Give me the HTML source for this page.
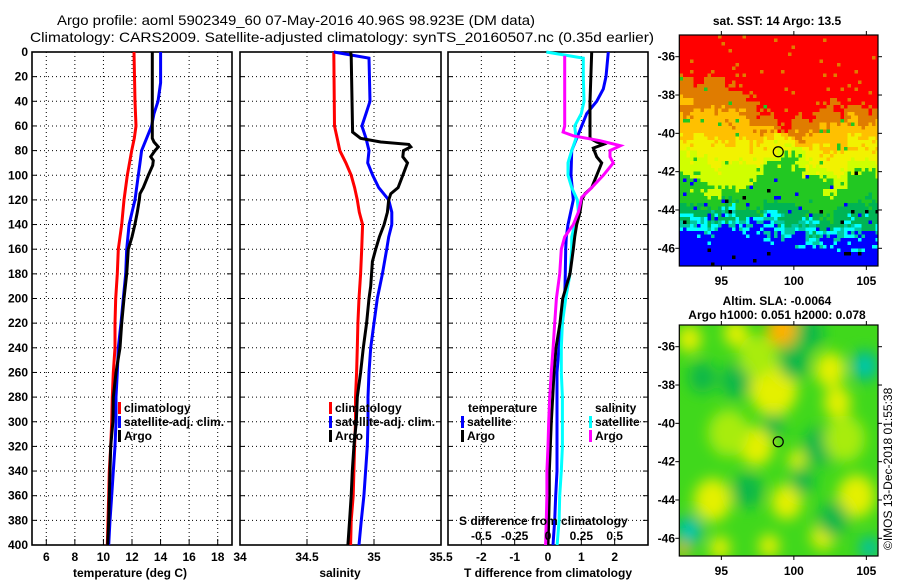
<!DOCTYPE html>
<html><head><meta charset="utf-8">
<style>
html,body{margin:0;padding:0;background:#fff;}
svg{display:block;font-family:"Liberation Sans",Arial,sans-serif;}
.tk{font-size:12px;font-weight:bold;fill:#000;}
.ti{font-size:14px;fill:#000;}
.lg{font-size:12px;font-weight:bold;fill:#000;}
</style></head>
<body>
<svg id="chart" width="900" height="580" viewBox="0 0 900 580" xmlns="http://www.w3.org/2000/svg">
  <text class="ti" x="296" y="25" text-anchor="middle" textLength="478" lengthAdjust="spacingAndGlyphs">Argo profile: aoml 5902349_60 07-May-2016 40.96S 98.923E (DM data)</text>
  <text class="ti" x="342" y="42" text-anchor="middle" textLength="624" lengthAdjust="spacingAndGlyphs">Climatology: CARS2009. Satellite-adjusted climatology: synTS_20160507.nc (0.35d earlier)</text>
  <g id="panels"></g>
  <g id="maps"></g>
  <text class="ti" x="777" y="25" text-anchor="middle" style="font-size:12px;font-weight:bold">sat. SST: 14 Argo: 13.5</text>
  <text class="ti" x="777" y="305" text-anchor="middle" style="font-size:12px;font-weight:bold">Altim. SLA: -0.0064</text>
  <text class="ti" x="777" y="319" text-anchor="middle" style="font-size:12px;font-weight:bold">Argo h1000: 0.051 h2000: 0.078</text>
  <text x="892" y="550" transform="rotate(-90 892 550)" style="font-size:12px;fill:#000">©IMOS 13-Dec-2018 01:55:38</text>
</svg>
<script>
// ---------- data ----------
const depthTicks = [0,20,40,60,80,100,120,140,160,180,200,220,240,260,280,300,320,340,360,380,400];
const tempTicks = [6,8,10,12,14,16,18];
const salTicks = [34,34.5,35,35.5];
const salTickLabels = ["34","34.5","35","35.5"];
const diffTicks = [-2,-1,0,1,2];
const sDiffTicks = [-0.5,-0.25,0,0.25,0.5];
const sDiffTickLabels = ["-0.5","-0.25","0","0.25","0.5"];

const climTDepth = [0,40,60,70,80,100,120,140,160,180,200,220,240,260,280,300,320,340,360,380,400];
const climTVal = [12.14,12.21,12.28,12.16,11.98,11.67,11.44,11.28,11.04,10.97,10.86,10.81,10.81,10.69,10.62,10.58,10.51,10.41,10.37,10.32,10.27];
const satTDepth = [0,25,40,50,60,70,80,90,100,120,130,140,160,180,200,220,240,260,280,300,320,340,360,380,400];
const satTVal = [14.0,14.0,13.82,13.54,13.37,13.02,12.67,12.56,12.44,12.21,12.0,11.8,11.63,11.56,11.39,11.23,11.04,10.97,10.88,10.88,10.81,10.69,10.58,10.46,10.37];
const argoTDepth = [0,70,73,77,80,85,88,92,100,110,115,120,130,140,150,160,180,200,220,240,260,280,300,320,340,360,380,400];
const argoTVal = [13.42,13.42,13.54,13.84,13.61,13.31,13.49,13.45,13.14,12.79,12.56,12.51,12.37,12.2,12.0,11.74,11.63,11.44,11.28,11.16,10.88,10.69,10.66,10.51,10.46,10.41,10.37,10.3];

const climSDepth = [0,60,70,80,90,100,110,120,130,140,160,180,200,220,240,260,280,300,320,340,360,380,400];
const climSVal = [34.70,34.705,34.725,34.745,34.79,34.83,34.855,34.875,34.89,34.915,34.908,34.90,34.888,34.88,34.875,34.87,34.862,34.862,34.855,34.85,34.845,34.83,34.825];
const satSDepth = [0,5,40,50,60,70,80,90,100,110,120,130,140,150,160,180,200,220,240,260,280,300,320,340,360,380,400];
const satSVal = [34.70,34.963,34.97,34.94,34.91,34.94,34.963,34.953,34.99,35.035,35.11,35.133,35.133,35.11,35.095,35.063,35.025,35.0,34.975,34.963,34.955,34.955,34.95,34.937,34.925,34.905,34.888];
const argoSDepth = [0,3,65,70,73,75,77,80,85,90,100,110,115,120,130,140,150,160,170,190,200,220,240,260,280,300,320,340,360,380,400];
const argoSVal = [34.825,34.83,34.84,34.90,35.05,35.26,35.275,35.22,35.215,35.25,35.215,35.18,35.125,35.11,35.10,35.075,35.04,35.013,34.988,34.975,34.963,34.945,34.92,34.90,34.875,34.868,34.85,34.838,34.83,34.818,34.805];

const satTDiffDepth = [0,20,30,40,50,60,70,80,100,120,140,150,160,180,200,220,240,260,280,300,320,340,360,380,400];
const satTDiffVal = [1.81,1.74,1.66,1.46,1.16,1.01,0.86,0.71,0.69,0.76,0.6,0.55,0.53,0.52,0.50,0.43,0.33,0.27,0.27,0.27,0.27,0.27,0.23,0.2,0.15];
const argoTDiffDepth = [0,40,70,73,75,78,85,90,100,110,115,120,130,140,150,160,180,200,220,240,260,280,300,320,340,360,380,400];
const argoTDiffVal = [1.31,1.26,1.26,1.46,1.66,1.36,1.46,1.61,1.46,1.31,1.11,1.01,0.96,0.86,0.8,0.76,0.66,0.44,0.36,0.24,0.18,0.14,0.1,0.07,0.04,0.04,0.02,0.0];
const satSDiffDepth = [0,5,20,40,50,60,70,80,90,100,110,120,130,140,150,160,180,200,220,240,260,280,300,320,340,360,380,400];
const satSDiffVal = [-0.0125,0.265,0.265,0.27,0.25,0.2,0.21,0.178,0.15,0.15,0.178,0.22,0.228,0.2,0.178,0.178,0.165,0.133,0.108,0.1,0.1,0.108,0.108,0.108,0.1,0.088,0.083,0.068];
const argoSDiffDepth = [3,60,65,68,72,76,80,85,90,100,110,118,130,140,150,160,180,200,220,240,260,280,300,320,340,360,380,400];
const argoSDiffVal = [0.125,0.125,0.113,0.19,0.39,0.543,0.465,0.465,0.49,0.415,0.328,0.253,0.228,0.19,0.125,0.1,0.088,0.063,0.05,0.038,0.025,0.013,0.005,0,-0.008,-0.008,-0.013,-0.018];

// map data
const latTicks = [-36,-38,-40,-42,-44,-46];
const lonTicks = [95,100,105];
const argoLon = 98.923, argoLat = -40.96;
const bandLon = [92,94,96,98,99.5,101,102.5,104,106];
const redEdgeLat = [-37.3,-36.8,-37.3,-39.0,-39.4,-39.2,-38.4,-38.4,-38.8];
const greenEdgeLat = [-42.0,-42.8,-43.0,-42.0,-41.2,-42.0,-43.0,-42.0,-42.0];
const blueEdgeLat = [-45.0,-45.0,-44.8,-45.2,-45.5,-45.6,-45.5,-45.5,-45.2];
const slaBlobLon = [98.6,99.2,97.4,94.4,102.5,104.3,103,92.8,96,99.5,98.3,102,94.9,100.2,92.3, 104.9,92.8,105.2,96.8,98.6,102.7,101.8,96,93.7,101.1,100.6,95.5,103.5,97.5,100];
const slaBlobLat = [-38.2,-35.1,-41.2,-44,-37.2,-43.8,-38.9,-35.6,-35.3,-44.1,-46.4,-45.9,-46.5,-41.9,-46.6, -37,-45.6,-46.5,-43.5,-40.1,-45,-41.2,-37.8,-37.6,-35.3,-43,-40.5,-40.8,-36.5,-36.8];
const slaBlobKind = ["y","o","y","y","y","y","y","y","y","y","y","y","y","y","o", "c","c","c","d","d","d","d","d","d","d","d","l","l","l","d"];
const slaBlobR = [1.4,0.9,1.0,1.1,0.9,1.1,0.8,0.7,0.7,0.9,0.6,0.7,0.6,0.5,0.35, 0.8,0.8,0.6,0.9,0.6,0.9,1.0,0.9,0.8,0.8,0.7,1.2,1.2,1.1,0.9];

// ---------- drawing ----------
const NS='http://www.w3.org/2000/svg';
function mk(tag, attrs, parent){const e=document.createElementNS(NS,tag);for(const k in attrs)e.setAttribute(k,attrs[k]);parent.appendChild(e);return e;}
const panels=document.getElementById('panels');
const Y0=52, Y1=545;
const yD = d => Y0 + d*(Y1-Y0)/400;
const xT = v => 32 + (v-5)*200/14;
const xS = v => 240 + (v-34)*201/1.5;
const xDf = v => 448 + (v+3)*200/6;
const xSD = v => xDf(v*4);

function panel(name, x0, x1, xticks, xfn, labels, showDepthLabels, title, titleX){
  const g=mk('g',{},panels);
  
  
  depthTicks.forEach(d=>{
    const l=mk('line',{x1:x0,x2:x1,y1:yD(d),y2:yD(d),stroke:'#000','stroke-width':1,'stroke-dasharray':'1,3'},g);
    
    
    mk('line',{x1:x0,x2:x0+5,y1:yD(d),y2:yD(d),stroke:'#000','stroke-width':1},g);
    mk('line',{x1:x1-5,x2:x1,y1:yD(d),y2:yD(d),stroke:'#000','stroke-width':1},g);
    if(showDepthLabels){
      const t=mk('text',{x:28,y:yD(d)+4,'text-anchor':'end',class:'tk'},g);
      t.textContent=d;
      
      
    }
  });
  xticks.forEach((v,i)=>{
    const x=xfn(v);
    if(x>x0+1 && x<x1-1){
      const l=mk('line',{x1:x,x2:x,y1:Y0,y2:Y1,stroke:'#000','stroke-width':1,'stroke-dasharray':'1,3'},g);
      
      
    }
    mk('line',{x1:x,x2:x,y1:Y1-6,y2:Y1,stroke:'#000','stroke-width':1},g);
    const t=mk('text',{x:x,y:561,'text-anchor':'middle',class:'tk'},g);
    t.textContent=labels?labels[i]:String(v);
    
    
  });
  const r=mk('rect',{x:x0,y:Y0,width:x1-x0,height:Y1-Y0,fill:'none',stroke:'#000','stroke-width':1.6},g);
  
  
  const at=mk('text',{x:titleX,y:577,'text-anchor':'middle',class:'tk'},g);
  at.textContent=title;
  
  
  return g;
}
function series(g, name, depths, vals, xfn, color){
  const pts=depths.map((d,i)=>xfn(vals[i]).toFixed(1)+','+yD(d).toFixed(1)).join(' ');
  const p=mk('polyline',{points:pts,fill:'none',stroke:color,'stroke-width':3,'stroke-linejoin':'miter'},g);
  
  
}
function legend(g, name, x, y, color, label){
  const r=mk('rect',{x:x,y:y-6,width:3,height:12,fill:color},g);
  
  
  const t=mk('text',{x:x+6,y:y+4,class:'lg'},g);
  t.textContent=label;
  
  
}

const g1=panel('temperature-panel',32,232,tempTicks,xT,null,true,'temperature (deg C)',130);
series(g1,'temp-climatology-line',climTDepth,climTVal,xT,'#ff0000');
series(g1,'temp-satellite-line',satTDepth,satTVal,xT,'#0000ff');
series(g1,'temp-argo-line',argoTDepth,argoTVal,xT,'#000');
legend(g1,'legend-climatology',118,408,'#ff0000','climatology');
legend(g1,'legend-satellite-adj',118,422,'#0000ff','satellite-adj. clim.');
legend(g1,'legend-argo',118,436,'#000','Argo');

const g2=panel('salinity-panel',240,441,salTicks,xS,salTickLabels,false,'salinity',340);
series(g2,'sal-climatology-line',climSDepth,climSVal,xS,'#ff0000');
series(g2,'sal-satellite-line',satSDepth,satSVal,xS,'#0000ff');
series(g2,'sal-argo-line',argoSDepth,argoSVal,xS,'#000');
legend(g2,'legend-climatology-sal',329,408,'#ff0000','climatology');
legend(g2,'legend-satellite-adj-sal',329,422,'#0000ff','satellite-adj. clim.');
legend(g2,'legend-argo-sal',329,436,'#000','Argo');

const g3=panel('difference-panel',448,648,diffTicks,xDf,null,false,'T difference from climatology',548);
series(g3,'t-diff-satellite-line',satTDiffDepth,satTDiffVal,xDf,'#0000ff');
series(g3,'s-diff-satellite-line',satSDiffDepth,satSDiffVal,xSD,'#00ffff');
series(g3,'t-diff-argo-line',argoTDiffDepth,argoTDiffVal,xDf,'#000');
series(g3,'s-diff-argo-line',argoSDiffDepth,argoSDiffVal,xSD,'#ff00ff');
(function(){
  const t=mk('text',{x:468,y:412,class:'lg'},g3);t.textContent='temperature';
  
  
  const s=mk('text',{x:595,y:412,class:'lg'},g3);s.textContent='salinity';
  
  
  const h=mk('text',{x:459,y:525,class:'lg'},g3);h.textContent='S difference from climatology';
  
  
  sDiffTicks.forEach((v,i)=>{
    const tt=mk('text',{x:xSD(v),y:540,'text-anchor':'middle',class:'lg'},g3);
    tt.textContent=sDiffTickLabels[i];
    
    
  });
})();
legend(g3,'legend-t-satellite',461,422,'#0000ff','satellite');
legend(g3,'legend-t-argo',461,436,'#000','Argo');
legend(g3,'legend-s-satellite',589,422,'#00ffff','satellite');
legend(g3,'legend-s-argo',589,436,'#ff00ff','Argo');

// ---------- maps ----------
const maps=document.getElementById('maps');
const MX0=679.3, MX1=878, MW=MX1-MX0, MH=231;
const lonX = lon => MX0 + (lon-92.1)*14.5;
const latY = (lat, top) => top + 21.7 + (-36-lat)*19.16;
function interp(xs, ys, x){
  if(x<=xs[0])return ys[0];
  for(let i=1;i<xs.length;i++){if(x<=xs[i]){const f=(x-xs[i-1])/(xs[i]-xs[i-1]);return ys[i-1]+f*(ys[i]-ys[i-1]);}}
  return ys[ys.length-1];
}
function hash(i,j,k){let h=(i*374761393+j*668265263+k*2147483647)|0;h=(h^(h>>>13))*1274126177|0;h=h^(h>>>16);return ((h>>>0)%10000)/10000;}
function mapAxes(g, top, name){
  latTicks.forEach(l=>{
    const y=latY(l,top);
    mk('line',{x1:MX1,x2:MX1+4,y1:y,y2:y,stroke:'#000'},g);
    mk('line',{x1:MX0-4,x2:MX0,y1:y,y2:y,stroke:'#000'},g);
    const t=mk('text',{x:675,y:y+4,'text-anchor':'end',class:'tk'},g);
    t.textContent=l;
    
    
  });
  lonTicks.forEach(l=>{
    const x=lonX(l);
    mk('line',{x1:x,x2:x,y1:top+MH,y2:top+MH+4,stroke:'#000'},g);
    mk('line',{x1:x,x2:x,y1:top-4,y2:top,stroke:'#000'},g);
    const t=mk('text',{x:x,y:top+MH+19,'text-anchor':'middle',class:'tk'},g);
    t.textContent=l;
    
    
  });
  const r=mk('rect',{x:MX0,y:top,width:MW,height:MH,fill:'none',stroke:'#000','stroke-width':1.2},g);
  
  
  const c=mk('circle',{cx:lonX(argoLon),cy:latY(argoLat,top),r:5,fill:'none',stroke:'#000','stroke-width':1.2},g);
  
  
}
// SST map
(function(){
  const top=35;
  const g=mk('g',{},maps);
  
  
  const cs=3.5, nx=Math.ceil(MW/cs), ny=Math.ceil(MH/cs);
  const cells=mk('g',{'shape-rendering':'crispEdges'},g);
  for(let j=0;j<ny;j++)for(let i=0;i<nx;i++){
    const x=MX0+i*cs, y=top+j*cs;
    const lon=92.1+(x+cs/2-MX0)/14.5;
    const lat=-36-((y+cs/2)-(top+21.7))/19.16;
    const jit=(hash(i,j,1)-0.5)*0.7+(hash(i>>2,j>>2,2)-0.5)*1.0;
    const la=lat+jit, h=hash(i,j,3);
    const rb=interp(bandLon,redEdgeLat,lon), gb=interp(bandLon,greenEdgeLat,lon), bb=interp(bandLon,blueEdgeLat,lon);
    let c;
    if(la>rb){c=h<0.03?'#e07c00':'#ff0000';}
    else if(la>gb){const f=(rb-la)/(rb-gb);c=f<0.3?'#e07c00':f<0.55?'#ffc000':f<0.8?'#f2f200':'#d0ff00'; if(h<0.02)c='#20c820';}
    else if(la>bb){const f=(gb-la)/(gb-bb);c=f<0.5?'#22c822':f<0.75?'#00b454':(h<0.5?'#00c8a0':'#00ffff'); if(h<0.03)c='#0000ff'; else if(h>0.985)c='#000';}
    else {c=(h<0.025 && lat<-45.8)?'#000':(h>0.95&&la>bb-0.7?'#00ffff':'#0000ff');}
    mk('rect',{x:x.toFixed(1),y:y.toFixed(1),width:cs+0.1,height:cs+0.1,fill:c},cells);
  }
  mk('rect',{x:MX1,y:top-1,width:20,height:MH+2,fill:'#fff'},g);
  mk('rect',{x:MX0,y:top+MH,width:MW+2,height:10,fill:'#fff'},g);
  mapAxes(g,top,'sst-map');
})();
// SLA map
(function(){
  const top=325;
  const g=mk('g',{},maps);
  
  
  const defs=mk('defs',{},g);
  const cp=mk('clipPath',{id:'slaclip'},defs);
  mk('rect',{x:MX0,y:top,width:MW,height:MH},cp);
  const f=mk('filter',{id:'blur',x:'-50%',y:'-50%',width:'200%',height:'200%'},defs);
  mk('feGaussianBlur',{stdDeviation:7},f);
  const inner=mk('g',{'clip-path':'url(#slaclip)'},g);
  mk('rect',{x:MX0,y:top,width:MW,height:MH,fill:'#40d81c'},inner);
  const bl=mk('g',{filter:'url(#blur)'},inner);
  const colors={y:'#e4f000',o:'#ffb000',c:'#00b890',d:'#10b848',l:'#a8ec10'};
  slaBlobLon.forEach((lon,i)=>{
    const k=slaBlobKind[i], r=slaBlobR[i]*17;
    const e=mk('ellipse',{cx:lonX(lon),cy:latY(slaBlobLat[i],top),rx:r,ry:r*1.15,fill:colors[k]},bl);
    
    
    if(k==='c'){mk('circle',{cx:lonX(lon),cy:latY(slaBlobLat[i],top),r:r*0.35,fill:'#00e8e0'},bl);}
  });
  mapAxes(g,top,'sla-map');
})();
</script>
</body></html>
